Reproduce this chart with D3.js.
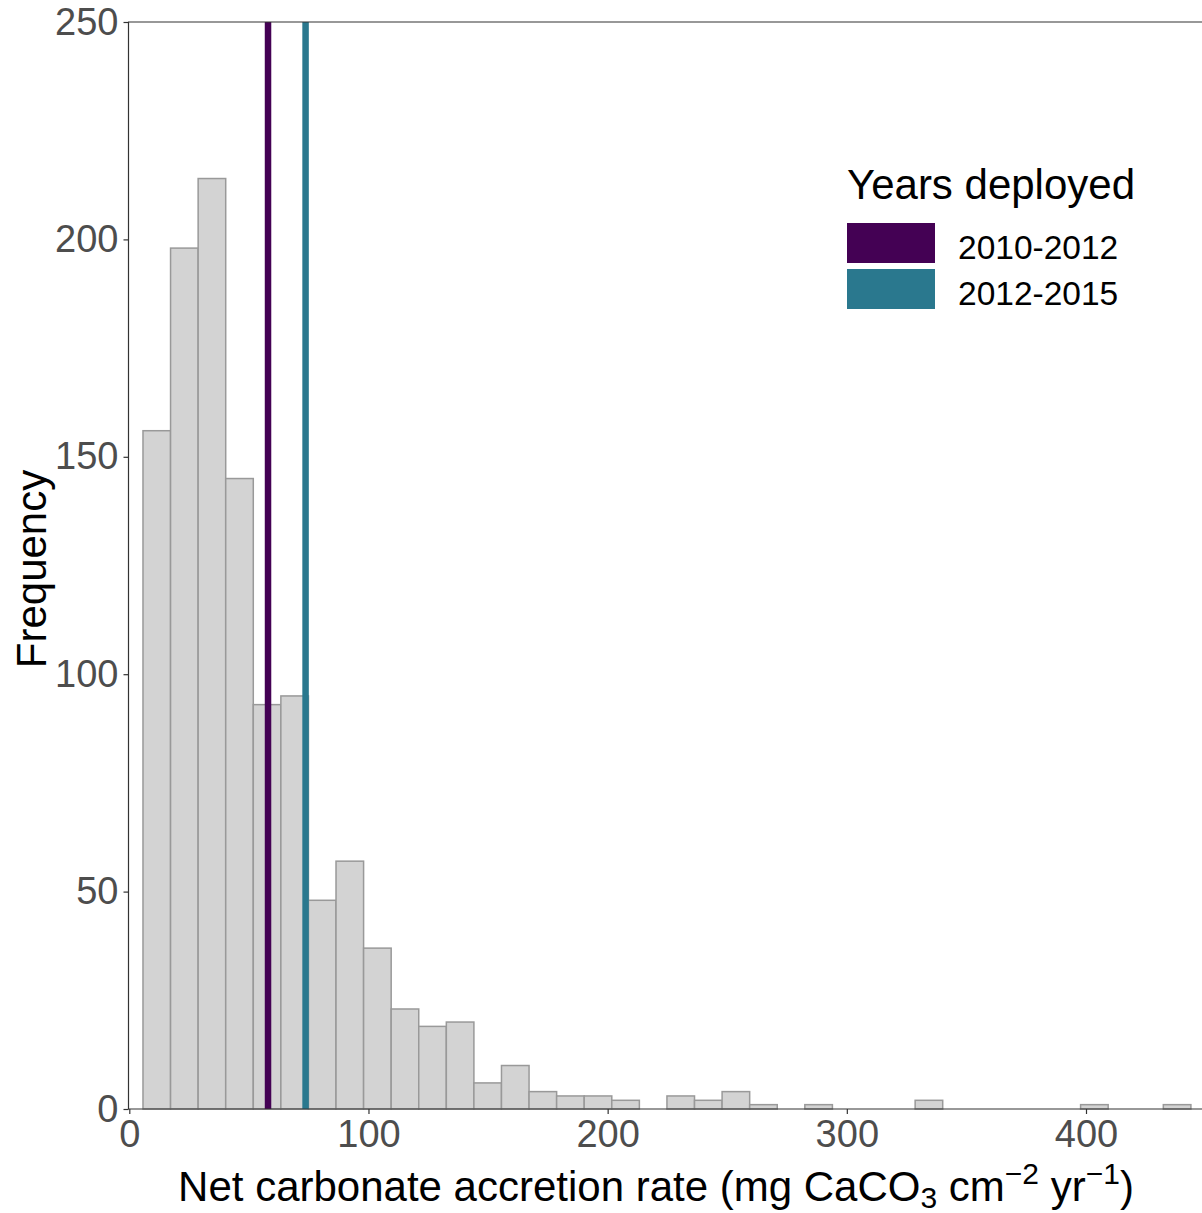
<!DOCTYPE html>
<html>
<head>
<meta charset="utf-8">
<script src="https://cdn.jsdelivr.net/npm/d3@7"></script>
<style>
  body { margin: 0; background: #fff; }
  svg { display: block; font-family: "Liberation Sans", Arial, sans-serif; }
</style>
</head>
<body>
<div id="chart"></div>
<script>
// histogram bins (net carbonate accretion rate)
var binStart = 5.72
var binWidth = 11.53
var counts = [156, 198, 214, 145, 93, 95, 48, 57, 37, 23, 19, 20, 6, 10, 4, 3, 3, 2, 0,
              3, 2, 4, 1, 0, 1, 0, 0, 0, 2, 0, 0, 0, 0, 0, 1, 0, 0, 1]

// mean lines per deployment period
var periods = ["2010-2012", "2012-2015"]
var periodMeans = [58, 73.7]
var periodColors = ["#440154", "#2A788E"]

var xTicks = [0, 100, 200, 300, 400]
var yTicks = [0, 50, 100, 150, 200, 250]

var width = 1202
var height = 1213

var svg = d3.select("#chart").append("svg")
  .attr("width", width)
  .attr("height", height)

var x = d3.scaleLinear().domain([0, 448.5]).range([129.3, 1202])
var y = d3.scaleLinear().domain([0, 250]).range([1109, 22])

var bins = counts.map(function(c, i) {
  return { x0: binStart + i * binWidth, x1: binStart + (i + 1) * binWidth, n: c }
}).filter(function(d) { return d.n > 0 })

svg.append("g")
  .selectAll("rect")
  .data(bins)
  .enter().append("rect")
  .attr("x", function(d) { return x(d.x0) })
  .attr("width", function(d) { return x(d.x1) - x(d.x0) })
  .attr("y", function(d) { return y(d.n) })
  .attr("height", function(d) { return y(0) - y(d.n) })
  .attr("fill", "#D3D3D3")
  .attr("stroke", "#999999")
  .attr("stroke-width", 1.5)

// vertical mean lines
svg.append("g")
  .selectAll("line")
  .data(periodMeans)
  .enter().append("line")
  .attr("x1", function(d) { return x(d) })
  .attr("x2", function(d) { return x(d) })
  .attr("y1", y(250))
  .attr("y2", y(0))
  .attr("stroke", function(d, i) { return periodColors[i] })
  .attr("stroke-width", 6.5)

// axes
var xAxis = svg.append("g")
  .attr("transform", "translate(0," + y(0) + ")")
  .call(d3.axisBottom(x).tickValues(xTicks).tickSize(5).tickPadding(6).tickSizeOuter(0))
xAxis.select(".domain").remove()
xAxis.selectAll("line").attr("stroke", "#333").attr("stroke-width", 1.2)
xAxis.selectAll("text").attr("font-size", 38).attr("fill", "#4D4D4D")
  .attr("font-family", "Liberation Sans, Arial, sans-serif")

var yAxis = svg.append("g")
  .attr("transform", "translate(128.5,0)")
  .call(d3.axisLeft(y).tickValues(yTicks).tickSize(5).tickPadding(5).tickSizeOuter(0))
yAxis.select(".domain").remove()
yAxis.selectAll("line").attr("stroke", "#333").attr("stroke-width", 1.2)
yAxis.selectAll("text").attr("font-size", 38).attr("fill", "#4D4D4D")
  .attr("font-family", "Liberation Sans, Arial, sans-serif")

// axis lines (left, bottom and top border)
svg.append("line").attr("x1", 128.5).attr("x2", 128.5).attr("y1", y(250)).attr("y2", y(0))
  .attr("stroke", "#333").attr("stroke-width", 1.2)
svg.append("line").attr("x1", 128).attr("x2", width).attr("y1", y(0)).attr("y2", y(0))
  .attr("stroke", "#333").attr("stroke-width", 1.2)
svg.append("line").attr("x1", 128).attr("x2", width).attr("y1", y(250)).attr("y2", y(250))
  .attr("stroke", "#333").attr("stroke-width", 1.2)

// axis titles
svg.append("text")
  .attr("transform", "translate(46,569) rotate(-90)")
  .attr("text-anchor", "middle")
  .attr("font-size", 42)
  .attr("fill", "#000")
  .text("Frequency")

var xt = svg.append("text")
  .attr("x", 656)
  .attr("y", 1201)
  .attr("text-anchor", "middle")
  .attr("font-size", 42)
  .attr("fill", "#000")
xt.append("tspan").text("Net carbonate accretion rate (mg CaCO")
xt.append("tspan").attr("font-size", 30).attr("dy", 7).text("3")
xt.append("tspan").attr("dy", -7).text(" cm")
xt.append("tspan").attr("font-size", 30).attr("dy", -17).text("\u22122")
xt.append("tspan").attr("dy", 17).text(" yr")
xt.append("tspan").attr("font-size", 30).attr("dy", -17).text("\u22121")
xt.append("tspan").attr("dy", 17).text(")")

// legend
var legend = svg.append("g")
legend.append("text")
  .attr("x", 847)
  .attr("y", 199)
  .attr("font-size", 42)
  .attr("fill", "#000")
  .text("Years deployed")

var keys = legend.selectAll(".key")
  .data(periods)
  .enter().append("g")
  .attr("class", "key")
  .attr("transform", function(d, i) { return "translate(847," + (223 + i * 46) + ")" })
keys.append("rect")
  .attr("width", 88)
  .attr("height", 40)
  .attr("fill", function(d, i) { return periodColors[i] })
keys.append("text")
  .attr("x", 111)
  .attr("y", 36)
  .attr("font-size", 33.5)
  .attr("fill", "#000")
  .text(function(d) { return d })
</script>
</body>
</html>
